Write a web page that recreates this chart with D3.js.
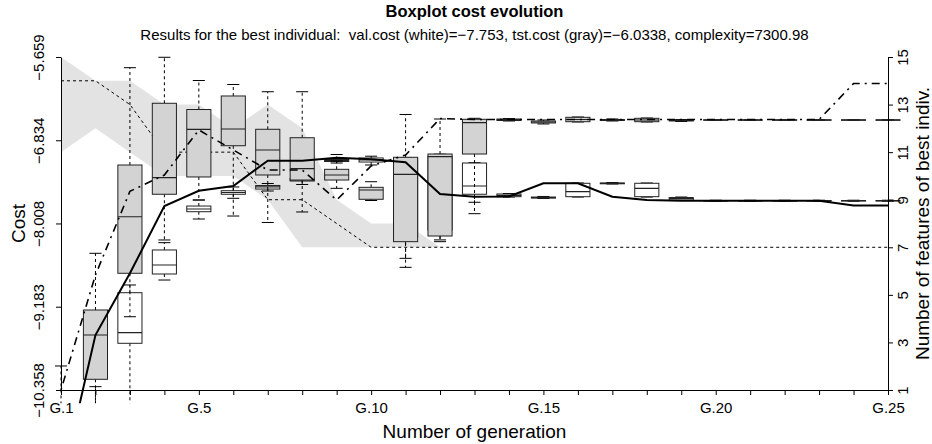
<!DOCTYPE html>
<html>
<head>
<meta charset="utf-8">
<script src="https://cdn.jsdelivr.net/npm/d3@7"></script>
<style>
body { margin: 0; background: #fff; }
svg { font-family: "Liberation Sans", Arial, Helvetica, sans-serif; }
</style>
</head>
<body>
<svg width="932" height="444"></svg>
<script>
const gens = [1,2,3,4,5,6,7,8,9,10,11,12,13,14,15,16,17,18,19,20,21,22,23,24,25]
const labeledGens = [1,5,10,15,20,25]
const costTicks = [-10.358, -9.183, -8.008, -6.834, -5.659]
const featTicks = [1,3,5,7,9,11,13,15]

// elite population costs per generation: [lower whisker, q1, median, q3, upper whisker]
const valBoxes = [
  [-12.4, -12.0, -11.8, -11.5, -11.0],
  [-11.5, -11.2, -11.0, -10.8, -10.311],
  [-10.6, -9.699, -9.549, -8.985, -8.876],
  [-8.806, -8.721, -8.594, -8.382, -8.279],
  [-7.945, -7.842, -7.804, -7.762, -7.677],
  [-7.653, -7.596, -7.571, -7.546, -7.493],
  [-7.550, -7.522, -7.493, -7.472, -7.444],
  [-7.458, -7.409, -7.395, -7.374, -7.352],
  [-7.155, -7.134, -7.120, -7.105, -7.035],
  [-7.183, -7.141, -7.112, -7.084, -7.059],
  [-8.50, -8.20, -7.30, -7.09, -7.08],
  [-8.24, -8.10, -7.54, -7.06, -7.03],
  [-7.709, -7.596, -7.479, -7.155, -7.151],
  [-7.635, -7.630, -7.613, -7.592, -7.585],
  [-7.656, -7.649, -7.642, -7.635, -7.627],
  [-7.635, -7.630, -7.560, -7.441, -7.437],
  [-7.451, -7.448, -7.441, -7.437, -7.430],
  [-7.635, -7.630, -7.512, -7.441, -7.437],
  [-7.684, -7.677, -7.656, -7.642, -7.635],
  [-7.694, -7.691, -7.687, -7.684, -7.680],
  [-7.694, -7.691, -7.687, -7.684, -7.680],
  [-7.694, -7.691, -7.687, -7.684, -7.680],
  [-7.694, -7.691, -7.687, -7.684, -7.680],
  [-7.694, -7.691, -7.687, -7.684, -7.680],
  [-7.694, -7.691, -7.687, -7.684, -7.680]
]
const tstBoxes = [
  [-12.0, -11.5, -11.2, -10.9, -10.019],
  [-10.70, -10.207, -9.582, -9.229, -8.429],
  [-9.324, -8.711, -7.913, -7.183, -5.810],
  [-8.241, -7.596, -7.362, -6.312, -5.663],
  [-7.677, -7.352, -6.679, -6.400, -5.991],
  [-7.903, -6.911, -6.675, -6.209, -6.047],
  [-7.994, -7.324, -6.971, -6.679, -6.149],
  [-7.846, -7.395, -7.235, -6.798, -6.149],
  [-7.512, -7.395, -7.324, -7.244, -7.127],
  [-7.684, -7.667, -7.536, -7.498, -7.419],
  [-8.627, -8.265, -7.314, -7.074, -6.470],
  [-8.265, -8.185, -7.066, -7.028, -6.534],
  [-7.870, -7.028, -6.586, -6.538, -6.524],
  [-6.562, -6.555, -6.541, -6.534, -6.527],
  [-6.604, -6.590, -6.576, -6.562, -6.548],
  [-6.576, -6.572, -6.541, -6.510, -6.506],
  [-6.562, -6.555, -6.548, -6.541, -6.534],
  [-6.576, -6.572, -6.548, -6.524, -6.520],
  [-6.569, -6.562, -6.555, -6.548, -6.541],
  [-6.555, -6.551, -6.548, -6.545, -6.541],
  [-6.555, -6.551, -6.548, -6.545, -6.541],
  [-6.555, -6.551, -6.548, -6.545, -6.541],
  [-6.555, -6.551, -6.548, -6.545, -6.541],
  [-6.555, -6.551, -6.548, -6.545, -6.541],
  [-6.555, -6.551, -6.548, -6.545, -6.541]
]

// best individual
const valBest = [-11.7, -9.582, -8.711, -7.762, -7.546, -7.479, -7.122, -7.122, -7.080, -7.103, -7.145, -7.592, -7.630,
  -7.627, -7.441, -7.441, -7.630, -7.677, -7.687, -7.687, -7.687, -7.687, -7.687, -7.753, -7.753]
const tstBest = [-10.358, -8.735, -7.554, -7.324, -6.689, -6.971, -7.254, -7.254, -7.677, -7.197, -7.042, -6.527, -6.541,
  -6.541, -6.541, -6.541, -6.541, -6.541, -6.541, -6.541, -6.541, -6.541, -6.541, -6.0338, -6.0338]

// number of features
const featBest = [14,14,13,11,11,11,9,9,8,7,7,7,7,7,7,7,7,7,7,7,7,7,7,7,7]
const featMin = [11,12,11,10,10,10,9,7,7,7,7,7,7,7,7,7,7,7,7,7,7,7,7,7,7]
const featMax = [15,14,14,13,13,12,13,12,9,8,8,7,7,7,7,7,7,7,7,7,7,7,7,7,7]

const svg = d3.select("svg")

const x = d3.scaleLinear().domain([1, 25]).range([61, 888])
const y = d3.scaleLinear().domain([-10.358, -5.659]).range([390, 57])
const yFeat = d3.scaleLinear().domain([1, 15]).range([390, 57])

const boxW = 0.7 * (x(2) - x(1))
const pad = 0.04 * (y.domain()[1] - y.domain()[0])

svg.append("clipPath").attr("id", "plotArea")
  .append("rect")
  .attr("x", x(0.5))
  .attr("y", y(-5.659 + pad))
  .attr("width", x(25.5) - x(0.5))
  .attr("height", y(-10.358 - pad) - y(-5.659 + pad))

const plot = svg.append("g").attr("clip-path", "url(#plotArea)")

// features range of the elite
plot.append("path")
  .datum(gens)
  .attr("d", d3.area()
    .x(d => x(d))
    .y0((d, i) => yFeat(featMin[i]))
    .y1((d, i) => yFeat(featMax[i])))
  .attr("fill", "#e3e3e3")

plot.append("path")
  .datum(featBest)
  .attr("d", d3.line().x((d, i) => x(gens[i])).y(d => yFeat(d)))
  .attr("fill", "none")
  .attr("stroke", "#000")
  .attr("stroke-width", 1)
  .attr("stroke-dasharray", "3,3")

function drawBoxes(data, fill) {
  const g = plot.append("g")
    .selectAll("g")
    .data(data)
    .enter()
    .append("g")
    .attr("transform", (d, i) => "translate(" + x(gens[i]) + ",0)")

  g.append("line")
    .attr("x1", 0).attr("x2", 0)
    .attr("y1", d => y(d[3])).attr("y2", d => y(d[4]))
    .attr("stroke", "#000").attr("stroke-dasharray", "3,3")
  g.append("line")
    .attr("x1", 0).attr("x2", 0)
    .attr("y1", d => y(d[1])).attr("y2", d => y(d[0]))
    .attr("stroke", "#000").attr("stroke-dasharray", "3,3")

  g.append("line")
    .attr("x1", -boxW / 4).attr("x2", boxW / 4)
    .attr("y1", d => y(d[4])).attr("y2", d => y(d[4]))
    .attr("stroke", "#000")
  g.append("line")
    .attr("x1", -boxW / 4).attr("x2", boxW / 4)
    .attr("y1", d => y(d[0])).attr("y2", d => y(d[0]))
    .attr("stroke", "#000")

  g.append("rect")
    .attr("x", -boxW / 2)
    .attr("width", boxW)
    .attr("y", d => y(d[3]))
    .attr("height", d => Math.max(0.5, y(d[1]) - y(d[3])))
    .attr("fill", fill)
    .attr("stroke", "#222")

  g.append("line")
    .attr("x1", -boxW / 2).attr("x2", boxW / 2)
    .attr("y1", d => y(d[2])).attr("y2", d => y(d[2]))
    .attr("stroke", "#222")
    .attr("stroke-width", 1.2)
}

drawBoxes(valBoxes, "#ffffff")
drawBoxes(tstBoxes, "#d3d3d3")

plot.append("path")
  .datum(valBest)
  .attr("d", d3.line().x((d, i) => x(gens[i])).y(d => y(d)))
  .attr("fill", "none")
  .attr("stroke", "#000")
  .attr("stroke-width", 2)

plot.append("path")
  .datum(tstBest)
  .attr("d", d3.line().x((d, i) => x(gens[i])).y(d => y(d)))
  .attr("fill", "none")
  .attr("stroke", "#000")
  .attr("stroke-width", 1.6)
  .attr("stroke-dasharray", "2,5,8,5")

// axes
const leftAxis = svg.append("g")
  .attr("transform", "translate(" + x(1) + ",0)")
  .call(d3.axisLeft(y).tickValues(costTicks).tickSize(5).tickSizeOuter(0).tickFormat(d3.format(".3f")))
leftAxis.selectAll("text")
  .attr("transform", "rotate(-90)")
  .attr("x", 0).attr("y", -17).attr("dy", 0)
  .attr("text-anchor", "middle")
  .style("font-size", "15px")

const rightAxis = svg.append("g")
  .attr("transform", "translate(" + x(25) + ",0)")
  .call(d3.axisRight(yFeat).tickValues(featTicks).tickSize(5).tickSizeOuter(0))
rightAxis.selectAll("text")
  .attr("transform", "rotate(-90)")
  .attr("x", 0).attr("y", 20).attr("dy", 0)
  .attr("text-anchor", "middle")
  .style("font-size", "15px")

const bottomAxis = svg.append("g")
  .attr("transform", "translate(0," + y(-10.358) + ")")
  .call(d3.axisBottom(x).tickValues(gens).tickSize(5).tickSizeOuter(0)
    .tickFormat(d => labeledGens.includes(d) ? "G." + d : ""))
bottomAxis.selectAll("text")
  .attr("y", 23).attr("dy", 0)
  .style("font-size", "15px")

svg.selectAll(".domain, .tick line").attr("stroke", "#000")
svg.selectAll(".tick text").attr("fill", "#000").style("font-family", "'Liberation Sans', Arial, sans-serif")

// titles
svg.append("text")
  .attr("x", 474.5).attr("y", 17)
  .attr("text-anchor", "middle")
  .style("font-size", "16.5px").style("font-weight", "bold")
  .text("Boxplot cost evolution")

svg.append("text")
  .attr("x", 474.5).attr("y", 40)
  .attr("text-anchor", "middle")
  .style("font-size", "15px")
  .style("white-space", "pre")
  .text("Results for the best individual:  val.cost (white)=\u22127.753, tst.cost (gray)=\u22126.0338, complexity=7300.98")

svg.append("text")
  .attr("x", 474.5).attr("y", 438)
  .attr("text-anchor", "middle")
  .style("font-size", "19px")
  .text("Number of generation")

svg.append("text")
  .attr("transform", "translate(25," + ((57 + 390) / 2) + ") rotate(-90)")
  .attr("text-anchor", "middle")
  .style("font-size", "19px")
  .text("Cost")

svg.append("text")
  .attr("transform", "translate(929," + ((57 + 390) / 2) + ") rotate(-90)")
  .attr("text-anchor", "middle")
  .style("font-size", "19px")
  .text("Number of features of best indiv.")
</script>
</body>
</html>
